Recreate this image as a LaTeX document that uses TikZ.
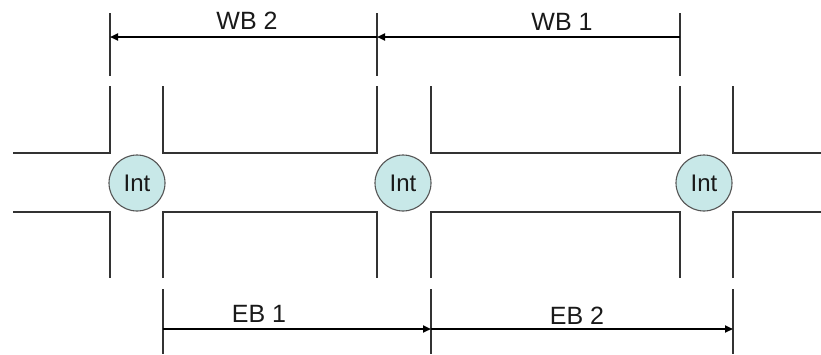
\documentclass[tikz,border=0pt]{standalone}
\usepackage{fontspec}
\setmainfont{Liberation Sans}
\usetikzlibrary{arrows.meta}
\definecolor{intfill}{HTML}{C8E8E8}
\definecolor{intdraw}{HTML}{555555}
\definecolor{roadc}{HTML}{333333}
\begin{document}
\begin{tikzpicture}[x=1pt,y=-1pt,
  road/.style={draw=roadc, line width=1.5pt},
  ext/.style={draw=roadc, line width=1.5pt},
  dim/.style={draw=black, line width=1.9pt, -{Triangle[length=8pt,width=7pt]}},
  intnode/.style={circle, draw=intdraw, line width=1.1pt, fill=intfill, minimum size=56pt, inner sep=0pt, font=\fontsize{24}{24}\selectfont, text=black!90},
  lbl/.style={font=\fontsize{25}{25}\selectfont, text=black!90, inner sep=0pt}]
\useasboundingbox (0,0) rectangle (821,354);
% roads
\draw[road] (13,153) -- (110,153) -- (110,86);
\draw[road] (163,86) -- (163,153) -- (377,153) -- (377,86);
\draw[road] (431,86) -- (431,153) -- (680,153) -- (680,86);
\draw[road] (733,86) -- (733,153) -- (821,153);
\draw[road] (13,212) -- (110,212) -- (110,278);
\draw[road] (163,278) -- (163,212) -- (377,212) -- (377,278);
\draw[road] (431,278) -- (431,212) -- (680,212) -- (680,278);
\draw[road] (733,278) -- (733,212) -- (821,212);
% intersections
\node[intnode] (i1) at (137,183) {Int};
\node[intnode] (i2) at (403,183) {Int};
\node[intnode] (i3) at (704,183) {Int};
% extension lines top
\coordinate (t1a) at (110,13); \coordinate (t1b) at (110,76);
\coordinate (t2a) at (377,13); \coordinate (t2b) at (377,76);
\coordinate (t3a) at (680,13); \coordinate (t3b) at (680,76);
\draw[ext] (t1a) -- (t1b);
\draw[ext] (t2a) -- (t2b);
\draw[ext] (t3a) -- (t3b);
% extension lines bottom
\coordinate (b1a) at (163,289); \coordinate (b1b) at (163,354);
\coordinate (b2a) at (431,289); \coordinate (b2b) at (431,354);
\coordinate (b3a) at (733,289); \coordinate (b3b) at (733,354);
\draw[ext] (b1a) -- (b1b);
\draw[ext] (b2a) -- (b2b);
\draw[ext] (b3a) -- (b3b);
% dimension arrows
\coordinate (w1) at (110,37); \coordinate (w2) at (377,37); \coordinate (w3) at (680,37);
\coordinate (e1) at (163,329); \coordinate (e2) at (431,329); \coordinate (e3) at (733,329);
\draw[dim] (w2) -- (w1);
\draw[dim] (w3) -- (w2);
\draw[dim] (e1) -- (e2);
\draw[dim] (e2) -- (e3);
% labels
\node[lbl] (lwb2) at (247,21) {WB 2};
\node[lbl] (lwb1) at (562,22) {WB 1};
\node[lbl] (leb1) at (259,314) {EB 1};
\node[lbl] (leb2) at (577,316) {EB 2};
\end{tikzpicture}
\end{document}
